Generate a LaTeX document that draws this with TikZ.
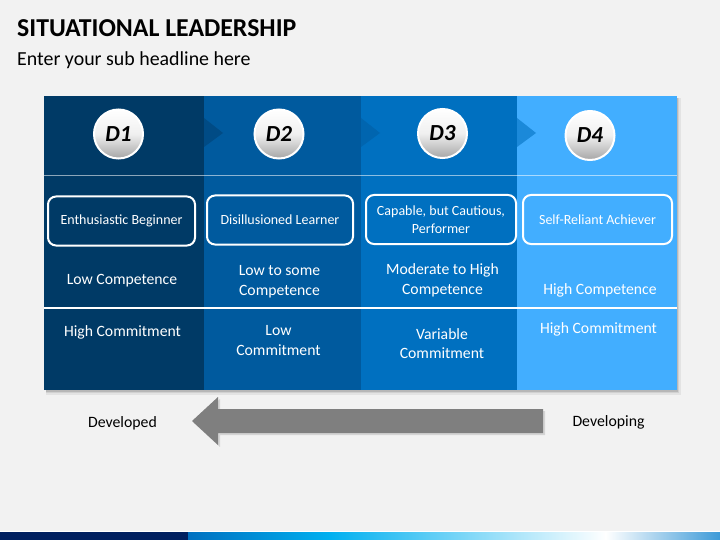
\documentclass[tikz,border=0pt]{standalone}
\usepackage{fontspec}
\setmainfont{Carlito}
\definecolor{bgc}{HTML}{F2F2F2}
\definecolor{colA}{HTML}{003A66}
\definecolor{colB}{HTML}{005A9E}
\definecolor{colC}{HTML}{0070C0}
\definecolor{colD}{HTML}{42AEFF}
\definecolor{arrowgray}{HTML}{7F7F7F}
\definecolor{navy}{HTML}{002060}
\definecolor{cyanb}{HTML}{00B0F0}
\definecolor{endblue}{HTML}{3C9AD8}
\tikzset{
  ball/.style={circle, minimum size=49pt, inner sep=0pt, draw=white, line width=2pt,
    top color=white, bottom color=gray!70, middle color=white!88!gray,
    font=\bfseries\itshape\fontsize{23}{23}\selectfont, text=black},
  rbox/.style={draw=white, line width=2pt, rounded corners=8pt, align=center,
    minimum height=49pt, inner sep=2pt, text=white,
    font=\fontsize{14}{17.5}\selectfont},
  celltext/.style={align=center, text=white, inner sep=0pt,
    font=\fontsize{15.7}{19.5}\selectfont},
  sidetext/.style={text=black, inner sep=0pt, font=\fontsize{15.8}{18}\selectfont},
}
\begin{document}
\begin{tikzpicture}[x=1pt,y=-1pt]
\useasboundingbox (0,0) rectangle (720,540);
\fill[bgc] (0,0) rectangle (720,540);

% titles
\node[anchor=base west, inner sep=0pt, font=\bfseries\fontsize{25.8}{30}\selectfont] (title) at (17,37) {SITUATIONAL LEADERSHIP};
\node[anchor=base west, inner sep=0pt, font=\fontsize{19.9}{24}\selectfont] (sub) at (17,66) {Enter your sub headline here};

% shadow
\fill[black, opacity=0.06] (46,98) rectangle (681,395);
\fill[black, opacity=0.08] (46,98) rectangle (679,393);
\fill[black, opacity=0.12] (46,98) rectangle (678,391.5);

% columns
\fill[colA] (44,96) rectangle (204,390);
\fill[colB] (204,96) rectangle (361,390);
\fill[colC] (361,96) rectangle (517,390);
\fill[colD] (517,96) rectangle (677,390);

% chevron notches
\fill[colA!45!colB] (204,118) -- (223,133) -- (204,147) -- cycle;
\fill[colB!50!colC] (361,118) -- (380,133) -- (361,147) -- cycle;
\fill[colC!60!colD] (517,118) -- (536,133) -- (517,147) -- cycle;

% lines
\draw[white, opacity=0.55, line width=0.8pt] (44,175) -- (677,175);
\draw[white, line width=2pt] (44,308) -- (677,308);

% circles
\node[ball] (d1) at (118.5,134) {D1};
\node[ball] (d2) at (279,134) {D2};
\node[ball] (d3) at (442.5,133.5) {D3};
\node[ball] (d4) at (590,135.5) {D4};

% rounded boxes
\node[rbox, minimum width=147pt] (b1) at (121.5,221) {Enthusiastic Beginner};
\node[rbox, minimum width=146pt] (b2) at (280,220) {Disillusioned Learner};
\node[rbox, minimum width=150pt] (b3) at (441,219.5) {Capable, but Cautious,\\Performer};
\node[rbox, minimum width=149pt] (b4) at (597.5,219.5) {Self-Reliant Achiever};

% competence
\node[celltext] (c1) at (122,280.5) {Low Competence};
\node[celltext] (c2) at (279.5,281.5) {Low to some\\Competence};
\node[celltext] (c3) at (442.5,280.5) {Moderate to High\\Competence};
\node[celltext] (c4) at (600,290.5) {High Competence};

% commitment
\node[celltext] (m1) at (122.5,332.5) {High Commitment};
\node[celltext] (m2) at (278.5,340.5) {Low\\Commitment};
\node[celltext] (m3) at (442,343.5) {Variable\\Commitment};
\node[celltext] (m4) at (598.5,329.5) {High Commitment};

% arrow
\fill[black, opacity=0.12] (545,411) -- (220,411) -- (220,399) -- (194,423) -- (220,447) -- (220,435) -- (545,435) -- cycle;
\fill[arrowgray] (543,409) -- (218,409) -- (218,397) -- (192,421) -- (218,445) -- (218,433) -- (543,433) -- cycle;
\node[sidetext] (dev1) at (122.5,423) {Developed};
\node[sidetext] (dev2) at (608.5,422) {Developing};

% bottom bar
\fill[navy] (0,532) rectangle (188,540);
\shade[left color=colC, right color=cyanb] (188,532) rectangle (330,540);
\shade[left color=cyanb, right color=white] (329.5,532) rectangle (606,540);
\shade[left color=white, right color=endblue] (605.5,532) rectangle (720,540);
\draw[white, line width=0.8pt] (0,531.5) -- (720,531.5);
\end{tikzpicture}
\end{document}
